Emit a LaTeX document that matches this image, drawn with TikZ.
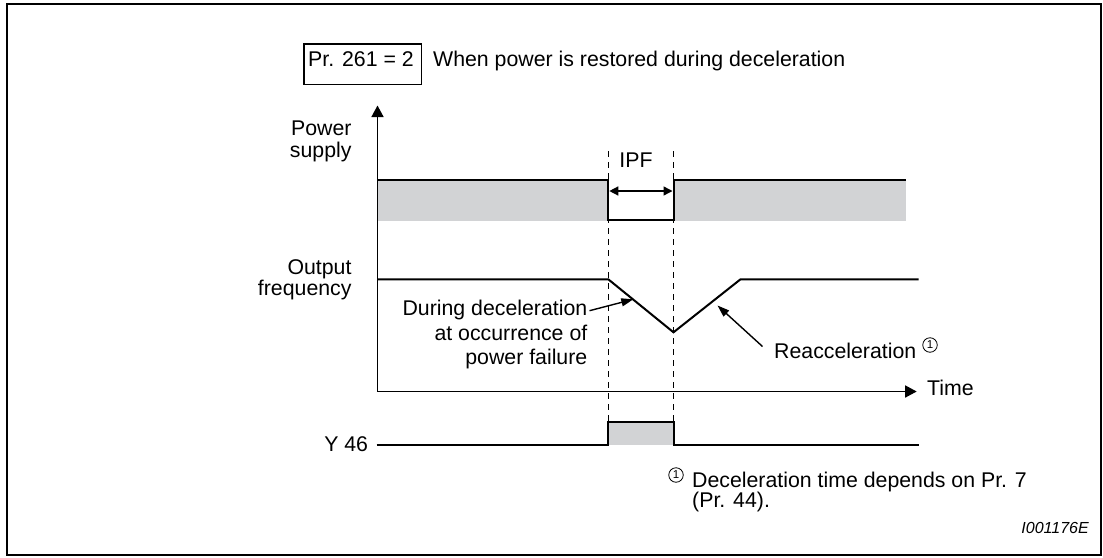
\documentclass[tikz,border=0pt]{standalone}
\usepackage{fontspec}
\setmainfont{Liberation Sans}
\usetikzlibrary{arrows.meta}
\definecolor{bandgray}{RGB}{210,211,213}
\tikzset{
  txt/.style={inner sep=0pt, font=\fontsize{21.3}{24}\selectfont},
  small/.style={inner sep=0pt, font=\fontsize{16}{18}\selectfont\itshape},
  circ/.style={circle, draw, line width=0.8pt, inner sep=0pt, minimum size=14.5pt, font=\fontsize{11.5}{12}\selectfont},
  sig/.style={line width=2pt, line join=miter},
  axis/.style={line width=1.5pt, -{Triangle[length=11.5pt,width=12pt]}},
  dashline/.style={line width=0.9pt, dash pattern=on 6pt off 5pt},
  ann/.style={line width=1.4pt, -{Triangle[length=12pt,width=8pt]}},
  ipfarrow/.style={line width=1.4pt, {Triangle[length=9pt,width=9pt]}-{Triangle[length=9pt,width=9pt]}},
  band/.style={fill=bandgray}
}
\begin{document}
\begin{tikzpicture}[x=1pt,y=-1pt]
\useasboundingbox (0,0) rectangle (1103,557);
% frame
\draw[line width=2.3pt] (7,4.2) rectangle (1101,555);
% heading
\node[draw, line width=1.3pt, anchor=north west, minimum width=117.2pt, minimum height=40.2pt, inner sep=0pt] (prbox) at (303.3,43.3) {};
\node[txt, anchor=base west] (prtxt) at (308,66.4) {Pr. 261 = 2};
\node[txt, anchor=base west] (title) at (433,66.4) {When power is restored during deceleration};
% axes
\coordinate (o) at (377.5,391.5);
\coordinate (ytop) at (377.5,105.5);
\coordinate (xend) at (916.7,391.5);
\draw[axis] (o) -- (ytop);
\draw[axis] (o) -- (xend);
\node[txt, anchor=base west] (time) at (927,395) {Time};
% labels
\node[txt, anchor=base east] (ps1) at (351.7,135) {Power};
\node[txt, anchor=base east] (ps2) at (351.7,157) {supply};
\node[txt, anchor=base east] (of1) at (351.7,274.2) {Output};
\node[txt, anchor=base east] (of2) at (351.7,295.6) {frequency};
% time markers
\draw[dashline] (608.3,151) -- (608.3,447);
\draw[dashline] (673.5,151) -- (673.5,447);
% power supply signal
\fill[band] (377.5,180) rectangle (608.3,220.5);
\fill[band] (673.5,180) rectangle (905.6,220.5);
\draw[sig] (377.5,180) -- (608.3,180) -- (608.3,219.5) -- (673.5,219.5) -- (673.5,180) -- (905.6,180);
\node[txt, anchor=base] (ipf) at (636,167.3) {IPF};
\coordinate (ipfl) at (609.3,191);
\coordinate (ipfr) at (672.5,191);
\draw[ipfarrow] (ipfl) -- (ipfr);
% output frequency
\coordinate (f0) at (377.5,279.3);
\coordinate (f1) at (608.3,279.3);
\coordinate (f2) at (673.5,332.3);
\coordinate (f3) at (740.5,279.3);
\coordinate (f4) at (918.7,279.3);
\draw[sig] (f0) -- (f1) -- (f2) -- (f3) -- (f4);
% annotations
\node[txt, anchor=base east] (dur1) at (587.5,315.7) {During deceleration};
\node[txt, anchor=base east] (dur2) at (587.5,340) {at occurrence of};
\node[txt, anchor=base east] (dur3) at (587.5,364) {power failure};
\coordinate (durtip) at (633.3,299.3);
\draw[ann] ([shift={(2,-5)}]dur1.base east) -- (durtip);
\node[txt, anchor=base west] (reac) at (774,358.8) {Reacceleration};
\node[circ] (reacc) at (930,345) {1};
\coordinate (reactail) at (762.5,346.5);
\coordinate (reactip) at (717.5,305.5);
\draw[ann] (reactail) -- (reactip);
% Y46 signal
\node[txt, anchor=base east] (y46) at (368.3,451.7) {Y 46};
\fill[band] (608.3,421.7) rectangle (673.5,445);
\draw[sig] (376.7,445) -- (608.3,445) -- (608.3,421.7) -- (673.5,421.7) -- (673.5,445) -- (918.7,445);
% footnote
\node[circ] (fnc) at (676,475) {1};
\node[txt, anchor=base west] (fn1) at (692,487) {Deceleration time depends on Pr. 7};
\node[txt, anchor=base west] (fn2) at (692,507.5) {(Pr. 44).};
\node[small, anchor=base east] (code) at (1089,533) {I001176E};
\end{tikzpicture}
\end{document}
